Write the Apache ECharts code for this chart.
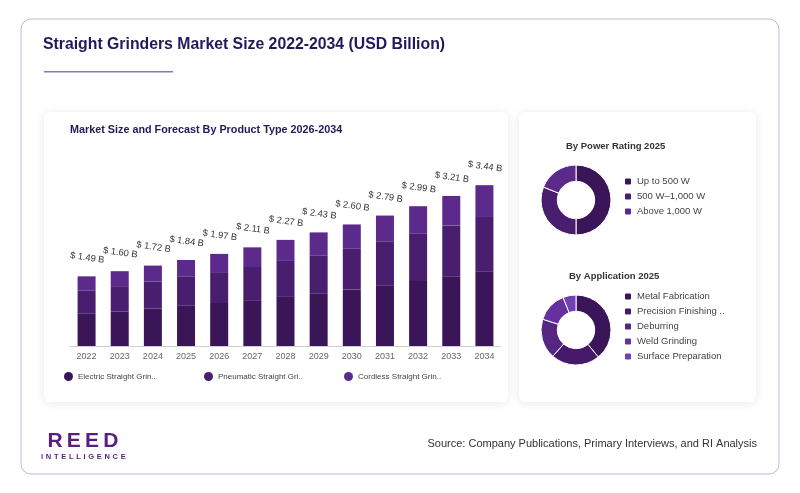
<!DOCTYPE html>
<html>
<head>
<meta charset="utf-8">
<script src="https://cdn.jsdelivr.net/npm/echarts@6/dist/echarts.min.js"></script>
<style>
  html, body { margin: 0; padding: 0; background: #ffffff; }
  #wrap { position: relative; width: 800px; height: 493px; }
  #chart { width: 800px; height: 493px; }
  #logo { position: absolute; left: 38px; top: 429px; width: 90px; text-align: center; font-family: "Liberation Sans", Arial, sans-serif; color: #5a1e80; }
  #logo .r { font-size: 21px; font-weight: bold; letter-spacing: 4.2px; line-height: 22px; padding-left: 4px; }
  #logo .i { font-size: 7.5px; font-weight: bold; letter-spacing: 2.7px; line-height: 10px; padding-left: 3px; margin-top: 1px; }
</style>
</head>
<body>
<div id="wrap">
<div id="chart"></div>
<div id="logo"><div class="r">REED</div><div class="i">INTELLIGENCE</div></div>
</div>
<script>
// ---- data ----
const years = ['2022','2023','2024','2025','2026','2027','2028','2029','2030','2031','2032','2033','2034'];
const electric  = [0.70, 0.74, 0.80, 0.86, 0.92, 0.98, 1.05, 1.13, 1.21, 1.30, 1.39, 1.49, 1.60];
const pneumatic = [0.49, 0.54, 0.58, 0.62, 0.66, 0.71, 0.77, 0.81, 0.88, 0.94, 1.01, 1.09, 1.16];
const cordless  = [0.30, 0.32, 0.34, 0.36, 0.39, 0.42, 0.45, 0.49, 0.51, 0.55, 0.59, 0.63, 0.68];
const totals    = [1.49, 1.60, 1.72, 1.84, 1.97, 2.11, 2.27, 2.43, 2.60, 2.79, 2.99, 3.21, 3.44];
const productNames = ['Electric Straight Grinders', 'Pneumatic Straight Grinders', 'Cordless Straight Grinders'];

const powerNames  = ['Up to 500 W', '500 W\u20131,000 W', 'Above 1,000 W'];
const powerValues = [50, 31, 19];

const appNames  = ['Metal Fabrication', 'Precision Finishing & Polishing', 'Deburring', 'Weld Grinding', 'Surface Preparation'];
const appValues = [39, 22.5, 18.5, 14, 6];

// ---- styles ----
const barColors = ['#3a1558', '#4a1e6e', '#5b2a8a'];
const powerColors = ['#3a1558', '#4a1e6e', '#5b2a8a'];
const appColors = ['#3a1558', '#47196b', '#562683', '#6531a0', '#7040b5'];
const FONT = '"Liberation Sans", Arial, Helvetica, sans-serif';

const chart = echarts.init(document.getElementById('chart'), null, { renderer: 'canvas' });

function legendFor(name, left) {
  return {
    data: [name], left: left, top: 372, padding: 0, icon: 'circle', itemWidth: 9, itemHeight: 9,
    itemGap: 0, selectedMode: false,
    formatter: n => n.length > 22 ? n.slice(0, 22) + '..' : n,
    textStyle: { fontSize: 8, color: '#444', fontFamily: FONT }
  };
}

const option = {
  backgroundColor: 'transparent',
  animation: false,
  graphic: [
    { type: 'rect', shape: { x: 21, y: 19, width: 758, height: 455, r: 10 }, style: { fill: '#fff', stroke: '#c6b1da', lineWidth: 1 }, z: -10 },
    { type: 'text', left: 43, top: 37, style: { text: 'Straight Grinders Market Size 2022-2034 (USD Billion)', font: 'bold 15.8px ' + FONT, fill: '#24185a' } },
    { type: 'rect', shape: { x: 44, y: 71, width: 129, height: 1.5 }, style: { fill: '#9a6cc2' } },
    { type: 'rect', shape: { x: 44, y: 112, width: 464, height: 290, r: 6 }, style: { fill: '#fff', shadowBlur: 10, shadowColor: 'rgba(0,0,0,0.10)', shadowOffsetY: 1 }, z: -5 },
    { type: 'rect', shape: { x: 519, y: 112, width: 237, height: 290, r: 6 }, style: { fill: '#fff', shadowBlur: 10, shadowColor: 'rgba(0,0,0,0.10)', shadowOffsetY: 1 }, z: -5 },
    { type: 'text', left: 70, top: 125, style: { text: 'Market Size and Forecast By Product Type 2026-2034', font: 'bold 10.8px ' + FONT, fill: '#24185a' } },
    { type: 'text', left: 566, top: 141, style: { text: 'By Power Rating 2025', font: 'bold 9.5px ' + FONT, fill: '#333' } },
    { type: 'text', left: 569, top: 271, style: { text: 'By Application 2025', font: 'bold 9.5px ' + FONT, fill: '#333' } },
    { type: 'text', right: 43, top: 438, style: { text: 'Source: Company Publications, Primary Interviews, and RI Analysis', font: '11px ' + FONT, fill: '#333' } }
  ],
  legend: [
    legendFor(productNames[0], 64),
    legendFor(productNames[1], 204),
    legendFor(productNames[2], 344),
    {
      data: powerNames, orient: 'vertical', left: 623, top: 176, padding: 0, icon: 'roundRect',
      itemWidth: 8, itemHeight: 8, itemGap: 4, selectedMode: false,
      textStyle: { fontSize: 9.5, color: '#444', fontFamily: FONT, lineHeight: 11 }
    },
    {
      data: appNames, orient: 'vertical', left: 623, top: 291, padding: 0, icon: 'roundRect',
      itemWidth: 8, itemHeight: 8, itemGap: 4, selectedMode: false,
      formatter: n => n.length > 20 ? n.slice(0, 20) + '..' : n,
      textStyle: { fontSize: 9.5, color: '#444', fontFamily: FONT, lineHeight: 11 }
    }
  ],
  grid: { left: 70, top: 159, width: 431, height: 187 },
  xAxis: {
    type: 'category', data: years,
    axisTick: { show: false },
    axisLine: { lineStyle: { color: '#d0d0d0' } },
    axisLabel: { color: '#666', fontSize: 9, margin: 6, fontFamily: FONT }
  },
  yAxis: { type: 'value', min: 0, max: 4, show: false, splitLine: { show: false } },
  series: [
    { name: productNames[0], type: 'bar', stack: 'total', data: electric, barWidth: 18, itemStyle: { color: barColors[0] } },
    { name: productNames[1], type: 'bar', stack: 'total', data: pneumatic, barWidth: 18, itemStyle: { color: barColors[1] } },
    {
      name: productNames[2], type: 'bar', stack: 'total', data: cordless, barWidth: 18, itemStyle: { color: barColors[2] },
      label: {
        show: true, position: 'top', distance: 14, rotate: -8,
        formatter: p => '$ ' + totals[p.dataIndex].toFixed(2) + ' B',
        fontSize: 9.3, color: '#333', fontFamily: FONT
      }
    },
    {
      type: 'pie', center: [576, 200], radius: [18.7, 35], startAngle: 90,
      label: { show: false }, labelLine: { show: false },
      itemStyle: { borderColor: '#fff', borderWidth: 1 },
      data: powerNames.map((n, i) => ({ name: n, value: powerValues[i], itemStyle: { color: powerColors[i] } }))
    },
    {
      type: 'pie', center: [576, 330], radius: [18.7, 35], startAngle: 90,
      label: { show: false }, labelLine: { show: false },
      itemStyle: { borderColor: '#fff', borderWidth: 1 },
      data: appNames.map((n, i) => ({ name: n, value: appValues[i], itemStyle: { color: appColors[i] } }))
    }
  ]
};
chart.setOption(option);
</script>
</body>
</html>
